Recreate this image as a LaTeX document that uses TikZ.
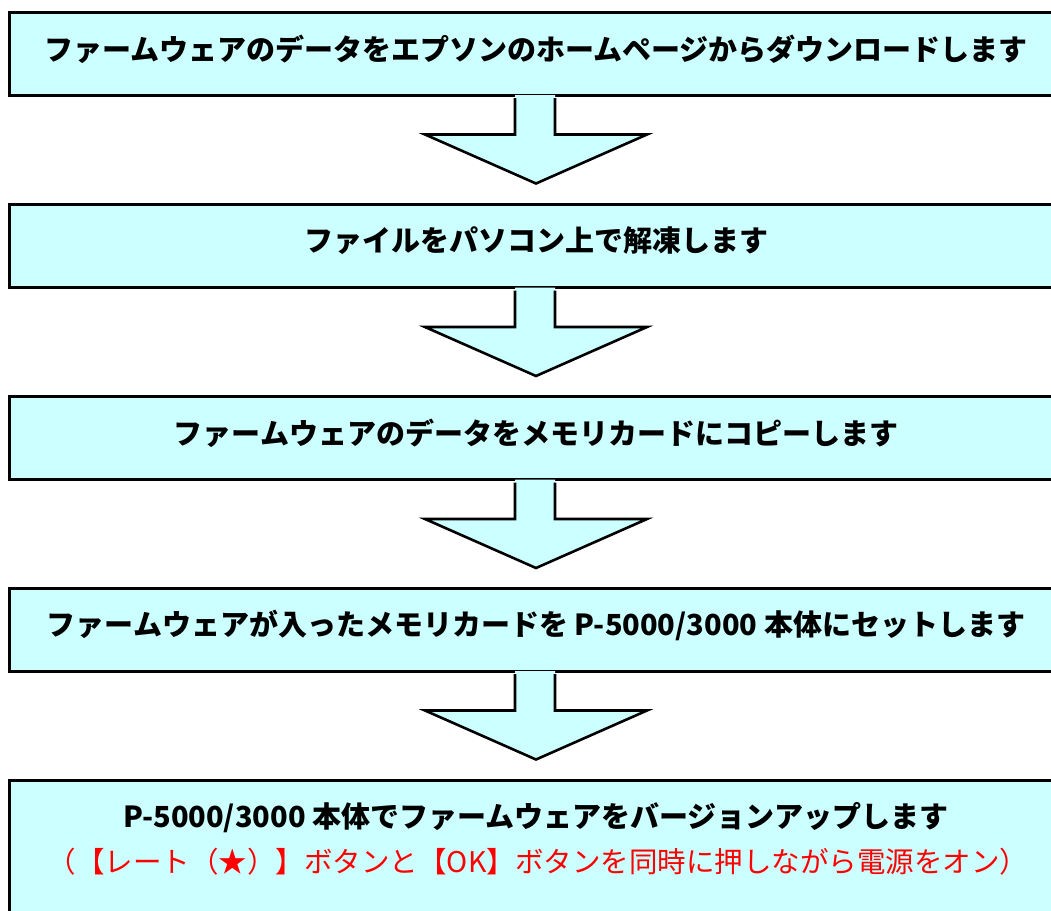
\documentclass[tikz,border=0pt]{standalone}
\usepackage{fontspec}
\newfontfamily\jp{Noto Sans CJK JP}
\definecolor{boxcyan}{HTML}{CCFFFF}
\definecolor{redtext}{HTML}{FF0000}
\tikzset{
  stepbox/.style={draw=black, line width=3pt, fill=boxcyan, rectangle,
    minimum width=1054pt, minimum height=83pt, inner sep=0pt},
  steptext/.style={font=\jp\bfseries\fontsize{29pt}{34pt}\selectfont, inner sep=0pt},
  redline/.style={font=\jp\fontsize{28.5pt}{34pt}\selectfont, text=redtext, inner sep=0pt},
  arrowfill/.style={fill=boxcyan, draw=none},
  arrowline/.style={draw=black, line width=2.6pt, line join=miter},
}
\newcommand{\blockarrow}[1]{%
  \fill[arrowfill] ($(#1.south)+(-21pt,1.5pt)$) -- ++(0,-39.5pt) -- ++(-90pt,0) -- ++(111pt,-49pt) -- ++(111pt,49pt) -- ++(-92pt,0) -- ++(0,39.5pt) -- cycle;
  \draw[arrowline] ($(#1.south)+(-21pt,-1.5pt)$) -- ++(0,-36.5pt) -- ++(-90pt,0) -- ++(111pt,-49pt) -- ++(111pt,49pt) -- ++(-92pt,0) -- ++(0,36.5pt);
}
\usetikzlibrary{calc}
\begin{document}
\begin{tikzpicture}[x=1pt,y=-1pt]
\useasboundingbox (0,0) rectangle (1051,910);
\node[stepbox] (b1) at (536,53.5) {};
\node[stepbox] (b2) at (536,246) {};
\node[stepbox] (b3) at (536,438) {};
\node[stepbox] (b4) at (536,629.5) {};
\node[stepbox, minimum height=150pt] (b5) at (536,855) {};
\node[steptext] (t1) at (536,49) {ファームウェアのデータをエプソンのホームページからダウンロードします};
\node[steptext] (t2) at (536,241) {ファイルをパソコン上で解凍します};
\node[steptext] (t3) at (536,433) {ファームウェアのデータをメモリカードにコピーします};
\node[steptext] (t4) at (536,625) {ファームウェアが入ったメモリカードを P-5000/3000 本体にセットします};
\node[steptext] (t5) at (536,818) {P-5000/3000 本体でファームウェアをバージョンアップします};
\node[redline] (t6) at (538,862) {（【レート（★）】ボタンと【OK】ボタンを同時に押しながら電源をオン）};
\blockarrow{b1}
\blockarrow{b2}
\blockarrow{b3}
\blockarrow{b4}
\end{tikzpicture}
\end{document}
